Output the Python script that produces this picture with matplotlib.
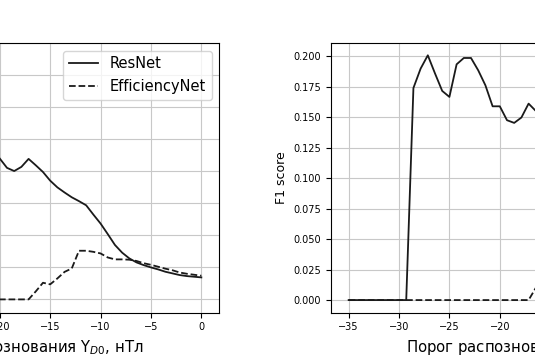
import numpy as np
import matplotlib
matplotlib.use('Agg')
import matplotlib.pyplot as plt

# threshold grid (50 points from -35 to 0 nT)
thresholds = np.linspace(-35, 0, 50)

# left panel: visible part only (thresholds[20:])
left_resnet = [0.47, 0.440, 0.411, 0.401, 0.414, 0.439, 0.419, 0.398, 0.371, 0.350,
               0.334, 0.319, 0.307, 0.294, 0.265, 0.237, 0.204, 0.170, 0.146, 0.128,
               0.1155, 0.107, 0.0999, 0.0937, 0.0864, 0.0812, 0.0760, 0.0728, 0.0708, 0.0687]
left_effnet = [0.0, 0.0, 0.0, 0.0, 0.0, 0.0, 0.025, 0.052, 0.047, 0.0655,
               0.086, 0.0967, 0.152, 0.152, 0.1486, 0.1436, 0.131, 0.125, 0.125, 0.124,
               0.120, 0.113, 0.108, 0.102, 0.096, 0.091, 0.084, 0.080, 0.077, 0.074]

# right panel: visible part only (thresholds[:27])
right_resnet = [0.0, 0.0, 0.0, 0.0, 0.0, 0.0, 0.0, 0.0, 0.0, 0.1738,
                0.1897, 0.2006, 0.1857, 0.1714, 0.1665, 0.1932, 0.1984, 0.1984, 0.1883, 0.176,
                0.1588, 0.1588, 0.1474, 0.1452, 0.1496, 0.161, 0.155]
right_effnet = [0.0] * 26 + [0.010]

xlabel = 'Порог распознования Y$_{D0}$, нТл'

fig = plt.figure(figsize=(5.35, 3.57), dpi=100)
ax1 = fig.add_axes([-0.3159, 0.1246, 0.7252, 0.754])
ax2 = fig.add_axes([0.6187, 0.1246, 0.7252, 0.754])

x_left = thresholds[20:]
x_right = thresholds[:27]

ax1.plot(x_left, left_resnet, color='#1a1a1a', linewidth=1.3, label='ResNet')
ax1.plot(x_left, left_effnet, color='#1a1a1a', linewidth=1.3, linestyle='--', label='EfficiencyNet')
ax1.set_xlim(-36.75, 1.75)
ax1.set_ylim(-0.041, 0.80)
ax1.set_yticks(np.arange(0, 0.81, 0.1))
ax1.set_xticks(range(-35, 1, 5))
ax1.grid(True, color='#c8c8c8')
ax1.legend(loc='upper right', fontsize=10.5)
ax1.set_xlabel(xlabel, fontsize=10.7)
ax1.tick_params(labelsize=7)

ax2.plot(x_right, right_resnet, color='#1a1a1a', linewidth=1.3, label='ResNet')
ax2.plot(x_right, right_effnet, color='#1a1a1a', linewidth=1.3, linestyle='--', label='EfficiencyNet')
ax2.set_xlim(-36.75, 1.75)
ax2.set_ylim(-0.0102, 0.2104)
ax2.set_yticks(np.arange(0, 0.201, 0.025))
ax2.set_xticks(range(-35, 1, 5))
ax2.grid(True, color='#c8c8c8')
ax2.set_xlabel(xlabel, fontsize=10.7)
ax2.set_ylabel('F1 score', fontsize=9)
ax2.tick_params(labelsize=7)

plt.savefig('out.png', dpi=100)
